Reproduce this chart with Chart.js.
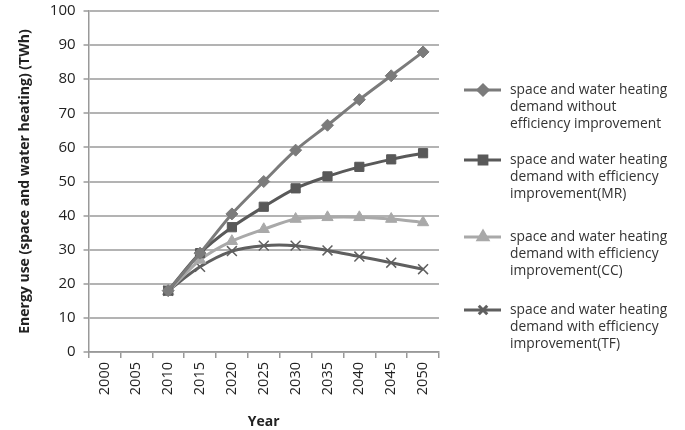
<!DOCTYPE html>
<html>
<head>
<meta charset="utf-8">
<script src="https://cdn.jsdelivr.net/npm/chart.js@4/dist/chart.umd.min.js"></script>
<style>
  html, body { margin: 0; padding: 0; background: #fff; }
  #wrap { width: 685px; height: 430px; position: relative; }
</style>
</head>
<body>
<div id="wrap"><canvas id="energyChart"></canvas></div>
<script>
// data
const years = ["2000", "2005", "2010", "2015", "2020", "2025", "2030", "2035", "2040", "2045", "2050"];
const noImprovement = [null, null, 18, 29, 40.5, 50, 59.2, 66.5, 74, 81, 88];
const improvementMR = [null, null, 18, 29, 36.6, 42.6, 48, 51.5, 54.3, 56.5, 58.3];
const improvementCC = [null, null, 17.8, 27, 32.5, 36, 39, 39.5, 39.5, 39, 38];
const improvementTF = [null, null, 18, 25, 29.6, 31.2, 31.2, 29.8, 28, 26.2, 24.3];
const seriesNames = [
  ["space and water heating", "demand without", "efficiency improvement"],
  ["space and water heating", "demand with efficiency", "improvement(MR)"],
  ["space and water heating", "demand with efficiency", "improvement(CC)"],
  ["space and water heating", "demand with efficiency", "improvement(TF)"]
];
const yTicks = [0, 10, 20, 30, 40, 50, 60, 70, 80, 90, 100];

const FONT = "'Open Sans', 'DejaVu Sans', sans-serif";

// legend on the right, with wrapped text
const sideLegend = {
  id: "sideLegend",
  afterDraw(chart) {
    const c = chart.ctx;
    const rows = [90, 160, 237, 310];
    chart.data.datasets.forEach((ds, i) => {
      const y = rows[i];
      c.save();
      c.strokeStyle = ds.borderColor;
      c.lineWidth = 3;
      c.beginPath();
      c.moveTo(464, y);
      c.lineTo(501, y);
      c.stroke();
      c.fillStyle = ds.pointBackgroundColor;
      c.strokeStyle = ds.pointBorderColor;
      Chart.helpers.drawPoint(c, {
        pointStyle: ds.pointStyle,
        radius: ds.pointRadius - 1,
        rotation: 0,
        borderWidth: ds.pointBorderWidth
      }, 483, y);
      c.fillStyle = "#333";
      c.font = "13.8px " + FONT;
      c.textBaseline = "middle";
      seriesNames[i].forEach((line, k) => c.fillText(line, 510, y + k * 16.8));
      c.restore();
    });
  }
};

function series(idx, data, color, style, radius) {
  return {
    label: seriesNames[idx].join(" "),
    data: data,
    borderColor: color,
    backgroundColor: color,
    pointBackgroundColor: color,
    pointBorderColor: color,
    pointBorderWidth: style === "crossRot" ? 1.5 : 1,
    pointStyle: style,
    pointRadius: radius,
    borderWidth: 3,
    tension: 0.3,
    fill: false
  };
}

new Chart(document.getElementById("energyChart"), {
  type: "line",
  data: {
    labels: years,
    datasets: [
      series(0, noImprovement, "#7b7b7b", "rectRot", 6),
      series(1, improvementMR, "#595959", "rect", 6.5),
      series(2, improvementCC, "#a9a9a9", "triangle", 6.5),
      series(3, improvementTF, "#5f5f5f", "crossRot", 7)
    ]
  },
  options: {
    responsive: true,
    maintainAspectRatio: false,
    animation: false,
    layout: { padding: { top: 0, right: 246, bottom: 0, left: 13 } },
    plugins: { legend: { display: false }, tooltip: { enabled: false } },
    scales: {
      x: {
        offset: true,
        grid: { offset: true, drawOnChartArea: false, tickLength: 6, color: "#999", lineWidth: 1.5 },
        border: { color: "#999", width: 1.5 },
        ticks: { minRotation: 90, maxRotation: 90, color: "#222", font: { family: FONT, size: 14.5 }, padding: 4 },
        title: { display: true, text: "Year", color: "#222", font: { family: FONT, size: 14, weight: "bold" }, padding: { top: 14, bottom: 0 } }
      },
      y: {
        min: 0,
        max: 100,
        afterBuildTicks(axis) { axis.ticks = yTicks.map(v => ({ value: v })); },
        afterFit(axis) { axis.paddingTop = 11; },
        grid: { color: "#b3b3b3", lineWidth: 2, tickLength: 5 },
        border: { color: "#999", width: 1.5 },
        ticks: { color: "#222", font: { family: FONT, size: 15 }, padding: 8 },
        title: { display: true, text: "Energy use (space and water heating) (TWh)", color: "#222", font: { family: FONT, size: 14, weight: "bold" }, padding: { bottom: 8 } }
      }
    }
  },
  plugins: [sideLegend]
});
</script>
</body>
</html>
